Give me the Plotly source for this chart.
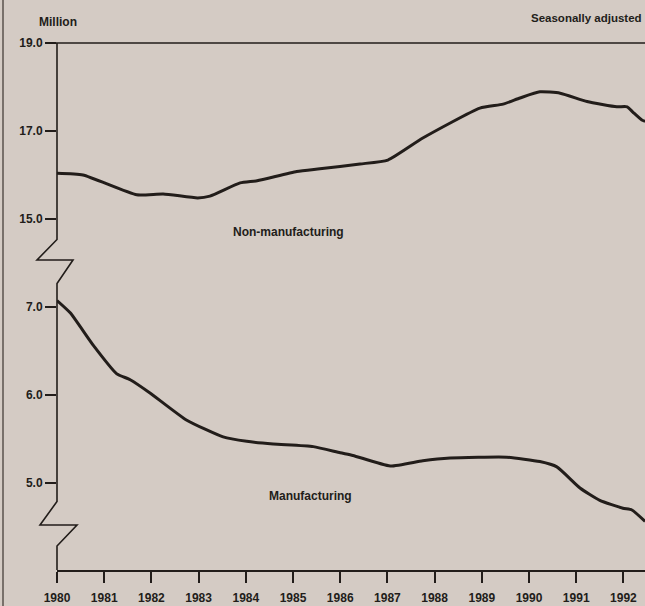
import plotly.graph_objects as go

# ---- data ----
nonmfg_years = [1980.0, 1980.55, 1981.69, 1982.25, 1982.98, 1983.24, 1983.88, 1984.24,
                1985.08, 1985.57, 1986.42, 1987.01, 1987.75, 1988.96, 1989.45, 1989.81,
                1990.23, 1990.66, 1991.23, 1991.86, 1992.08, 1992.2, 1992.39, 1992.46]
nonmfg_values = [16.04, 16.0, 15.55, 15.57, 15.48, 15.52, 15.82, 15.87,
                 16.08, 16.14, 16.25, 16.34, 16.84, 17.52, 17.61, 17.75,
                 17.89, 17.86, 17.67, 17.55, 17.55, 17.43, 17.25, 17.22]

mfg_years = [1980.0, 1980.28, 1980.77, 1981.26, 1981.55, 1981.97, 1982.75, 1983.52,
             1984.02, 1984.58, 1985.43, 1986.0, 1986.27, 1987.06, 1987.75, 1988.33,
             1989.53, 1990.23, 1990.59, 1991.08, 1991.5, 1991.99, 1992.18, 1992.46]
mfg_values = [7.07, 6.93, 6.56, 6.24, 6.17, 6.02, 5.71, 5.52,
              5.47, 5.44, 5.41, 5.34, 5.31, 5.19, 5.25, 5.28,
              5.29, 5.24, 5.18, 4.94, 4.80, 4.71, 4.69, 4.56]

year_ticks = list(range(1980, 1993))
upper_ticks = [15.0, 17.0, 19.0]
lower_ticks = [5.0, 6.0, 7.0]

# ---- styling ----
BG = "#d4cbc4"
INK = "#221d1a"
FONT = "Liberation Sans"
W, H = 645, 606
ML, MR, MT, MB = 57, 0, 43, 36
PW, PH = W - ML - MR, H - MT - MB


def px(x):
    return (x - ML) / PW


def py(y):
    return (H - MB - y) / PH


fig = go.Figure()
fig.add_trace(go.Scatter(x=mfg_years, y=mfg_values, mode="lines", xaxis="x", yaxis="y",
                         line=dict(color=INK, width=3.0, shape="spline", smoothing=0.5),
                         hoverinfo="skip", showlegend=False))
fig.add_trace(go.Scatter(x=nonmfg_years, y=nonmfg_values, mode="lines", xaxis="x", yaxis="y2",
                         line=dict(color=INK, width=3.0, shape="spline", smoothing=0.5),
                         hoverinfo="skip", showlegend=False))

tickfont = dict(family=FONT, size=12, color=INK, weight="bold")
x_right = 1980 + PW / 47.2

fig.update_layout(
    width=W, height=H,
    margin=dict(l=ML, r=MR, t=MT, b=MB, pad=0),
    paper_bgcolor=BG, plot_bgcolor=BG,
    showlegend=False,
    xaxis=dict(range=[1980, x_right], domain=[0, 1], tickvals=year_ticks,
               ticktext=[str(y) for y in year_ticks], ticks="outside", ticklen=11,
               tickwidth=1.6, tickcolor=INK, showline=True, linecolor=INK, linewidth=1.6,
               showgrid=False, zeroline=False, tickfont=tickfont, anchor="y",
               ticklabelstandoff=5),
    yaxis=dict(domain=[0, py(283)], range=[7 - (570 - 306.7) / 88, 7 + (306.7 - 283) / 88],
               tickvals=lower_ticks, ticktext=[f"{v:.1f}" for v in lower_ticks],
               ticks="outside", ticklen=11, tickwidth=1.6, tickcolor=INK,
               showline=False, showgrid=False, zeroline=False, tickfont=tickfont,
               anchor="x"),
    yaxis2=dict(domain=[py(240), 1], range=[19 - (240 - 43) / 44, 19],
                tickvals=upper_ticks, ticktext=[f"{v:.1f}" for v in upper_ticks],
                ticks="outside", ticklen=11, tickwidth=1.6, tickcolor=INK,
                showline=False, showgrid=False, zeroline=False, tickfont=tickfont,
                anchor="x"),
)

# broken vertical axis with zigzags
pts = [(57, 43), (57, 239.5), (37, 260), (73, 260), (57, 283.5), (57, 501.5),
       (40, 525), (77, 525), (57, 546), (57, 570)]
path = "M " + " L ".join(f"{px(x):.5f},{py(y):.5f}" for x, y in pts)
fig.add_shape(type="path", path=path, xref="paper", yref="paper",
              line=dict(color=INK, width=1.6))
# top frame line
fig.add_shape(type="line", xref="paper", yref="paper", x0=px(46), x1=1.0, y0=1, y1=1,
              line=dict(color=INK, width=1.6))
# page edge at far left
fig.add_shape(type="line", xref="paper", yref="paper", x0=px(3), x1=px(3), y0=py(0), y1=py(606),
              line=dict(color="#5a524c", width=1.5))

ann = dict(showarrow=False, font=dict(family=FONT, size=12, color=INK))
fig.add_annotation(text="<b>Million</b>", xref="paper", yref="paper", x=px(37), y=py(22),
                   xanchor="left", yanchor="middle", **ann)
fig.add_annotation(text="<b>Seasonally adjusted</b>", xref="paper", yref="paper", x=px(644),
                   y=py(18), xanchor="right", yanchor="middle", showarrow=False,
                   font=dict(family=FONT, size=11.5, color=INK))
fig.add_annotation(text="<b>Non-manufacturing</b>", xref="x", yref="y2",
                   x=1980 + (288.5 - 57) / 47.2, y=19 - (232 - 43) / 44,
                   xanchor="center", yanchor="middle", **ann)
fig.add_annotation(text="<b>Manufacturing</b>", xref="x", yref="y",
                   x=1980 + (310.5 - 57) / 47.2, y=7 - (495.7 - 306.7) / 88,
                   xanchor="center", yanchor="middle", **ann)

fig.write_html("out.html", config={"displayModeBar": False},
               post_script="document.body.style.margin='0';document.body.style.overflow='hidden';")
